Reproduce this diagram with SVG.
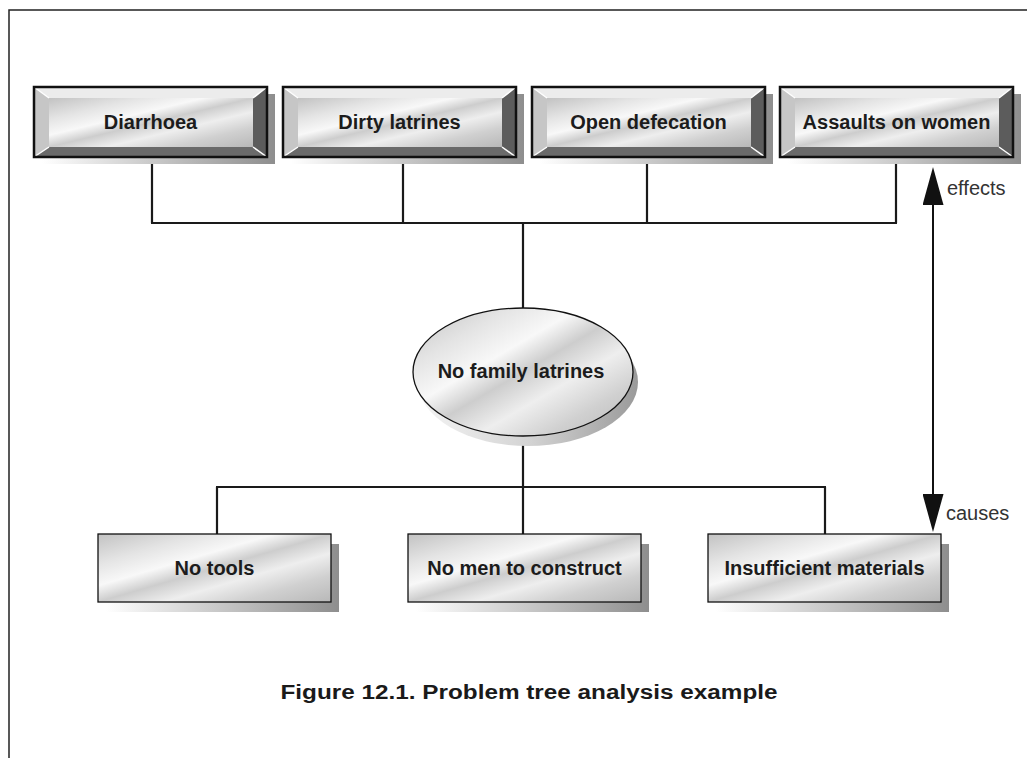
<svg xmlns="http://www.w3.org/2000/svg" xmlns:xlink="http://www.w3.org/1999/xlink" width="1027" height="758" viewBox="0 0 1027 758">
<style>
.lbl{font-family:"Liberation Sans",Arial,sans-serif;font-weight:bold;font-size:20px;fill:#1c1c1c;text-anchor:middle}
.side{font-family:"Liberation Sans",Arial,sans-serif;font-size:20px;fill:#333}
.cap{font-family:"Liberation Sans",Arial,sans-serif;font-weight:bold;font-size:20px;fill:#1a1a1a;text-anchor:middle}
.conn{stroke:#1a1a1a;stroke-width:2.2;fill:none}
.frame{stroke:#222;stroke-width:1.5;fill:none}
</style>
<defs>
<linearGradient id="metal" x1="0" y1="0" x2="1" y2="1">
<stop offset="0" stop-color="#c2c2c2"/>
<stop offset="0.22" stop-color="#e4e4e4"/>
<stop offset="0.38" stop-color="#f8f8f8"/>
<stop offset="0.5" stop-color="#cdcdcd"/>
<stop offset="0.64" stop-color="#eeeeee"/>
<stop offset="0.8" stop-color="#d0d0d0"/>
<stop offset="1" stop-color="#b8b8b8"/>
</linearGradient>
<linearGradient id="shad" x1="0" y1="0" x2="1" y2="0">
<stop offset="0" stop-color="#ffffff"/>
<stop offset="0.25" stop-color="#e2e2e2"/>
<stop offset="1" stop-color="#8e8e8e"/>
</linearGradient>
<linearGradient id="eshad" x1="0" y1="0" x2="1" y2="0">
<stop offset="0" stop-color="#f4f4f4"/>
<stop offset="0.5" stop-color="#d4d4d4"/>
<stop offset="1" stop-color="#9a9a9a"/>
</linearGradient>
<g id="btn">
<rect x="8" y="7" width="233" height="70" fill="url(#shad)"/>
<rect x="0" y="0" width="233" height="70" fill="#666"/>
<polygon points="0,0 233,0 219,11 15,11" fill="#ececec"/>
<polygon points="0,0 15,11 15,60 0,70" fill="#c6c6c6"/>
<polygon points="233,0 233,70 219,60 219,11" fill="#5c5c5c"/>
<polygon points="0,70 15,60 219,60 233,70" fill="#6a6a6a"/>
<rect x="15" y="11" width="204" height="49" fill="url(#metal)"/>
<path d="M0,0 L15,11 M0,70 L15,60 M233,70 L219,60 M233,0 L219,11" stroke="#fff" stroke-width="1.5"/>
<rect x="0" y="0" width="233" height="70" fill="none" stroke="#111" stroke-width="2.5"/>
</g>
<g id="box">
<rect x="8" y="10" width="233" height="68" fill="url(#shad)"/>
<rect x="0" y="0" width="233" height="68" fill="url(#metal)" stroke="#111" stroke-width="1.3"/>
</g>
<marker id="ah" viewBox="0 0 38 21" refX="0" refY="10.5" markerWidth="38" markerHeight="21" markerUnits="userSpaceOnUse" orient="auto-start-reverse">
<polygon points="0,0 38,10.5 0,21" fill="#111"/>
</marker>
</defs>
<rect width="1027" height="758" fill="#fff"/>
<path class="frame" d="M9,758 V10 H1027"/>
<g id="connectors">
<path class="conn" d="M152,157 V223 M403,157 V223 M647,157 V223 M896,157 V223 M151,223 H897 M523,223 V308"/>
<path class="conn" d="M523,436 V534 M216,487 H826 M217,487 V534 M825,487 V534"/>
<line x1="933" y1="205" x2="933" y2="494" stroke="#111" stroke-width="2" marker-start="url(#ah)" marker-end="url(#ah)"/>
<text class="side" x="947" y="195">effects</text>
<text class="side" x="946" y="520">causes</text>
</g>
<g id="diarrhoea">
<use xlink:href="#btn" x="34" y="87"/>
<text class="lbl" x="150.5" y="129">Diarrhoea</text>
</g>
<g id="dirty-latrines">
<use xlink:href="#btn" x="283" y="87"/>
<text class="lbl" x="399.5" y="129">Dirty latrines</text>
</g>
<g id="open-defecation">
<use xlink:href="#btn" x="532" y="87"/>
<text class="lbl" x="648.5" y="129">Open defecation</text>
</g>
<g id="assaults-on-women">
<use xlink:href="#btn" x="780" y="87"/>
<text class="lbl" x="896.5" y="129">Assaults on women</text>
</g>
<g id="no-family-latrines">
<ellipse cx="528" cy="382" rx="110" ry="64" fill="url(#eshad)"/>
<ellipse cx="523" cy="372" rx="110" ry="64" fill="url(#metal)" stroke="#111" stroke-width="1.3"/>
<text class="lbl" x="521" y="378" font-size="19">No family latrines</text>
</g>
<g id="no-tools">
<use xlink:href="#box" x="98" y="534"/>
<text class="lbl" x="214.5" y="575">No tools</text>
</g>
<g id="no-men">
<use xlink:href="#box" x="408" y="534"/>
<text class="lbl" x="524.5" y="575">No men to construct</text>
</g>
<g id="insufficient-materials">
<use xlink:href="#box" x="708" y="534"/>
<text class="lbl" x="824.5" y="575">Insufficient materials</text>
</g>
<text class="cap" x="529" y="699" textLength="497" lengthAdjust="spacingAndGlyphs">Figure 12.1. Problem tree analysis example</text>
</svg>
